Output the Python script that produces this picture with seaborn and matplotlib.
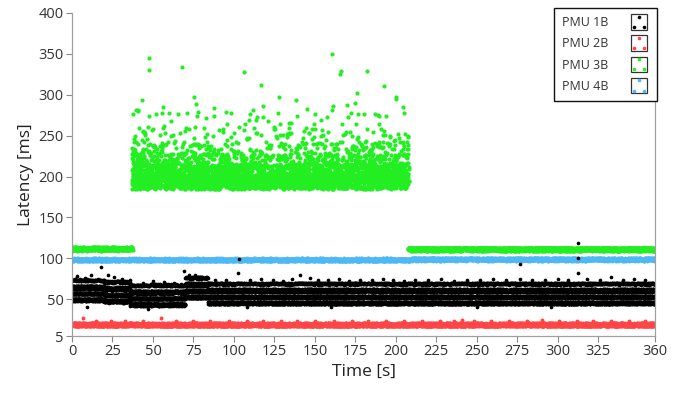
import numpy as np
import pandas as pd
import matplotlib
matplotlib.use("Agg")
import matplotlib.pyplot as plt
import seaborn as sns
from matplotlib.legend_handler import HandlerBase
from matplotlib.patches import Rectangle
from matplotlib.lines import Line2D

# ---------------- data ----------------
series_names = ["PMU 1B", "PMU 2B", "PMU 3B", "PMU 4B"]
series_colors = ["#000000", "#ff4545", "#22ee22", "#4db8f2"]

x_ticks = [0, 25, 50, 75, 100, 125, 150, 175, 200, 225, 250, 275, 300, 325, 360]
y_ticks = [5, 50, 100, 150, 200, 250, 300, 350, 400]

# dense bands: (t_start, t_end, centre latency, half width)
pmu2b_bands = [(0, 360, 18.8, 2.0)]
pmu4b_bands = [(0, 210, 98.3, 1.6), (210, 360, 98.8, 1.6)]
pmu3b_bands = [(0, 37.5, 111.5, 2.0), (207.5, 360, 111.2, 2.0)]

# PMU 1B: four stacked sub-bands (centre, half width) shifted per time segment
pmu1b_sub_centre = [69.0, 60.6, 52.8, 45.4]
pmu1b_sub_half = [1.2, 2.0, 1.0, 1.5]
pmu1b_sub_step = [0.25, 0.1, 0.1, 0.1]
pmu1b_seg_start = [0, 20, 36, 70, 84]
pmu1b_seg_end = [20, 36, 70, 84, 360]
pmu1b_seg_shift = [4.0, 2.0, -2.0, 7.0, 0.0]

# PMU 3B latency cloud during the disturbance: time span and latency profile
pmu3b_cloud_span = (37.0, 208.0)
pmu3b_cloud_quantile = [0.0, 0.55, 0.78, 0.90, 0.96, 0.99, 1.0]
pmu3b_cloud_latency = [185.0, 203.0, 215.0, 228.0, 243.0, 262.0, 280.0]

# individual points (time, latency)
pmu3b_high_t = [47.5, 47.5, 67.9, 106.0, 160.7, 165.8, 165.5, 182.3, 116.9, 192.4,
                176.0, 127.8, 138.5, 199.8, 199.8, 43.0, 40.5, 41.0, 39.5, 75.3,
                76.5, 77.8, 87.9, 161.0, 160.4, 204.3, 127.0, 139.0, 118.0, 174.5,
                180.0, 56.0, 95.0, 150.0, 189.0, 60.0, 52.0, 112.0, 145.0, 170.0]
pmu3b_high_v = [344.7, 330.0, 334.0, 327.6, 350.4, 329.6, 325.0, 329.0, 312.0, 311.0,
                302.6, 297.0, 293.0, 297.7, 295.0, 294.0, 281.0, 280.0, 281.5, 297.0,
                289.0, 279.0, 284.0, 286.6, 281.0, 284.7, 278.0, 274.0, 286.0, 290.0,
                276.0, 285.0, 279.0, 277.0, 275.0, 278.0, 276.0, 281.0, 283.0, 288.0]

pmu1b_extra_t = [3, 8, 12, 17.7, 22, 26, 31, 36, 44, 50, 57, 63, 69.3, 72, 76, 80, 88, 95,
                 102.7, 103, 110, 117, 124, 130, 136, 141, 147, 152, 158, 165, 171, 178,
                 185, 192, 198, 205, 212, 220, 228, 236, 244, 252, 260, 268, 276.7, 276.7,
                 284, 292, 300, 306, 312.5, 312.5, 312.5, 318, 326, 333, 340, 347, 354,
                 9, 47, 108, 250, 160, 296]
pmu1b_extra_v = [78, 76, 80, 89, 79, 77, 75, 73, 70, 72, 71, 70, 84, 79, 80, 77, 73, 74,
                 81.7, 99, 73, 75, 74, 72, 75, 80, 75.6, 73, 74, 75, 72, 74,
                 73, 75, 74, 72, 74, 73, 75, 72, 74, 73, 75, 74, 92.8, 75,
                 74, 73, 75, 74, 118.5, 100.6, 81.8, 75, 74, 77.6, 74, 75, 73,
                 41, 38, 40, 41, 40, 41]

pmu2b_extra_t = [6.6, 55, 241, 290, 15, 24, 33, 44, 64, 75, 85, 97, 108, 118, 129, 139,
                 150, 162, 173, 183, 194, 205, 216, 227, 236, 248, 259, 270, 281, 301,
                 312, 322, 333, 344, 354]
pmu2b_extra_v = [27, 27, 25, 25, 23, 23.5, 23, 23.5, 23, 23.5, 23, 23.5, 23, 23.5, 23,
                 23.5, 23, 23.5, 23, 23.5, 23, 23.5, 23, 23.5, 23, 23.5, 23, 23.5, 23,
                 23.5, 23, 23.5, 23, 23.5, 23]

# fixed fill offsets (unit interval) used to spread samples across a band
fill_a = np.array([0.12, 0.87, 0.45, 0.03, 0.66, 0.29, 0.94, 0.51, 0.18, 0.73, 0.38, 0.02,
                   0.59, 0.81, 0.24, 0.47, 0.96, 0.07, 0.63, 0.35, 0.78, 0.14, 0.55, 0.91,
                   0.27, 0.69, 0.42, 0.85, 0.09, 0.58, 0.31, 0.76, 0.20, 0.99, 0.48, 0.61, 0.05])
fill_b = np.array([0.33, 0.71, 0.08, 0.54, 0.92, 0.17, 0.46, 0.83, 0.26, 0.64, 0.01, 0.39,
                   0.77, 0.22, 0.57, 0.95, 0.13, 0.68, 0.41, 0.86, 0.04, 0.52, 0.29, 0.74,
                   0.19, 0.60, 0.97, 0.36, 0.81, 0.11, 0.49, 0.88, 0.24, 0.67, 0.43, 0.06,
                   0.79, 0.15, 0.53, 0.90, 0.31])
fill_c = np.array([0.517, 0.093, 0.762, 0.348, 0.981, 0.226, 0.604, 0.059, 0.873, 0.431,
                   0.185, 0.698, 0.312, 0.947, 0.024, 0.569, 0.836, 0.271, 0.452, 0.118,
                   0.725, 0.389, 0.963, 0.207, 0.641, 0.076, 0.814, 0.495, 0.158, 0.582,
                   0.903, 0.337, 0.746, 0.012, 0.429, 0.867, 0.254, 0.678, 0.141, 0.532,
                   0.795, 0.366, 0.918])

SAMPLE_STEP = 0.1


def fill_offsets(n, phase):
    i = np.arange(n) + phase
    return (fill_a[i % len(fill_a)] + fill_b[(3 * i) % len(fill_b)]
            + fill_c[(5 * i) % len(fill_c)]) % 1.0


def band(t0, t1, c, hw, step, phase):
    t = np.arange(t0, t1, step)
    u = fill_offsets(len(t), phase)
    return t, c + hw * (2 * u - 1)


frames = []
def add(name, t, v):
    frames.append(pd.DataFrame({"Time": np.asarray(t, float),
                                "Latency": np.asarray(v, float), "Series": name}))

for k, (t0, t1, c, hw) in enumerate(pmu4b_bands):
    add("PMU 4B", *band(t0, t1, c, hw, SAMPLE_STEP, 3 + 13 * k))

for k, (t0, t1, c, hw) in enumerate(pmu3b_bands):
    add("PMU 3B", *band(t0, t1, c, hw, SAMPLE_STEP, 11 + 13 * k))
tc = np.arange(pmu3b_cloud_span[0], pmu3b_cloud_span[1], SAMPLE_STEP / 2)
uc = fill_offsets(len(tc), 5)
add("PMU 3B", tc, np.interp(uc, pmu3b_cloud_quantile, pmu3b_cloud_latency))
add("PMU 3B", pmu3b_high_t, pmu3b_high_v)

for k, (t0, t1, c, hw) in enumerate(pmu2b_bands):
    add("PMU 2B", *band(t0, t1, c, hw, SAMPLE_STEP, 17))
add("PMU 2B", pmu2b_extra_t, pmu2b_extra_v)

for s, (t0, t1, sh) in enumerate(zip(pmu1b_seg_start, pmu1b_seg_end, pmu1b_seg_shift)):
    for j in range(len(pmu1b_sub_centre)):
        add("PMU 1B", *band(t0, t1, pmu1b_sub_centre[j] + sh, pmu1b_sub_half[j],
                            pmu1b_sub_step[j], 23 + 7 * j + 31 * s))
add("PMU 1B", pmu1b_extra_t, pmu1b_extra_v)

df = pd.concat(frames, ignore_index=True)

# ---------------- drawing ----------------
sns.set_theme(style="white")
plt.rcParams["font.family"] = ["Open Sans", "DejaVu Sans"]

fig = plt.figure(figsize=(6.86, 3.95), dpi=100)
ax = fig.add_axes([72 / 686, 1 - 336 / 395, (655 - 72) / 686, (336 - 13) / 395])

palette = dict(zip(series_names, series_colors))
sizes = {"PMU 4B": 8, "PMU 3B": 9, "PMU 2B": 8, "PMU 1B": 7}
order = ["PMU 4B", "PMU 3B", "PMU 2B", "PMU 1B"]
for name in order:
    sub = df[df["Series"] == name]
    sns.scatterplot(data=sub, x="Time", y="Latency", color=palette[name], s=sizes[name],
                    linewidth=0, marker="o", ax=ax, legend=False, rasterized=True)

ax.set_xlim(0, 360)
ax.set_ylim(5, 400)
ax.set_xticks(x_ticks)
ax.set_yticks(y_ticks)
ax.tick_params(axis="both", which="both", direction="out", length=4, width=0.8,
               color="#8a8a8a", labelsize=10.5, labelcolor="#333333", pad=2,
               bottom=True, left=True)
for side in ["left", "bottom", "right"]:
    ax.spines[side].set_color("#a0a0a0")
    ax.spines[side].set_linewidth(0.9)
ax.spines["top"].set_visible(False)
ax.set_xlabel("Time [s]", fontsize=12.5, color="#222222", labelpad=3)
ax.set_ylabel("Latency [ms]", fontsize=12.5, color="#222222", labelpad=3)


class BoxDots(HandlerBase):
    def create_artists(self, legend, orig_handle, xdescent, ydescent, width, height,
                       fontsize, trans):
        col = orig_handle.get_color()
        side = height * 1.25
        x0 = -xdescent + (width - side) / 2
        y0 = -ydescent + (height - side) / 2
        rect = Rectangle((x0, y0), side, side, facecolor="white", edgecolor="#333333",
                         linewidth=0.9, transform=trans)
        pts = Line2D([x0 + side / 2, x0 + side * 0.17, x0 + side * 0.83],
                     [y0 + side * 0.83, y0 + side * 0.17, y0 + side * 0.17],
                     linestyle="none", marker="o", markersize=2.6, color=col,
                     markeredgewidth=0, transform=trans)
        return [rect, pts]


handles = [Line2D([], [], color=c) for c in series_colors]
leg = fig.legend(handles, series_names, handler_map={Line2D: BoxDots()},
                 loc="upper right", bbox_to_anchor=(657 / 686, 1 - 8 / 395),
                 bbox_transform=fig.transFigure, markerfirst=False, fontsize=9,
                 frameon=True, fancybox=False, framealpha=1, edgecolor="#111111",
                 handlelength=1.6, handleheight=1.15, handletextpad=1.7,
                 labelspacing=0.62, borderpad=0.62, borderaxespad=0)
leg.get_frame().set_linewidth(1.0)
for txt in leg.get_texts():
    txt.set_color("#333333")

fig.savefig("out.png", dpi=100)
